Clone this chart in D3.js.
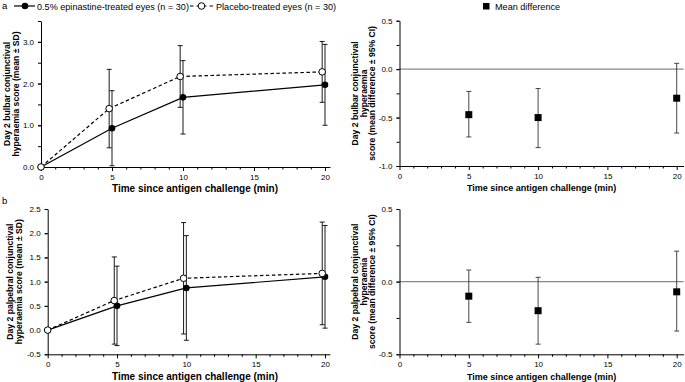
<!DOCTYPE html>
<html>
<head>
<meta charset="utf-8">
<script src="https://cdn.jsdelivr.net/npm/d3@7"></script>
<style>
  body { margin: 0; background: #fff; }
  svg text { font-family: "Liberation Sans", Arial, sans-serif; }
</style>
</head>
<body>
<svg id="chart" width="685" height="382"></svg>
<script>
// data
var times = [0, 5, 10, 20];
var diffTimes = [5, 10, 20];

var bulbarEpiMean = [0, 0.93, 1.67, 1.97];
var bulbarEpiSD   = [0, 0.90, 0.88, 0.97];
var bulbarPlaMean = [0, 1.40, 2.17, 2.28];
var bulbarPlaSD   = [0, 0.94, 0.74, 0.73];
var bulbarDiff    = [-0.47, -0.50, -0.30];
var bulbarDiffLo  = [-0.70, -0.81, -0.66];
var bulbarDiffHi  = [-0.23, -0.20, 0.06];

var palpEpiMean = [0, 0.50, 0.87, 1.10];
var palpEpiSD   = [0, 0.82, 1.08, 1.06];
var palpPlaMean = [0, 0.61, 1.07, 1.17];
var palpPlaSD   = [0, 0.90, 1.15, 1.06];
var palpDiff    = [-0.10, -0.20, -0.07];
var palpDiffLo  = [-0.28, -0.43, -0.34];
var palpDiffHi  = [0.08, 0.03, 0.21];

var xMajor = [0, 5, 10, 15, 20];
var xLabel = "Time since antigen challenge (min)";

var svg = d3.select("#chart");

function xAxisDraw(g, x, y0) {
  var minor = d3.range(0, 21, 1).filter(function(d){ return d % 5 != 0; });
  g.append("g").attr("transform", "translate(0," + y0 + ")")
    .call(d3.axisBottom(x).tickValues(minor).tickSize(2.5).tickFormat(""))
    .call(function(a){ a.select(".domain").remove(); });
  var ax = g.append("g").attr("transform", "translate(0," + y0 + ")")
    .call(d3.axisBottom(x).tickValues(xMajor).tickSizeInner(4).tickSizeOuter(0).tickPadding(3).tickFormat(d3.format("d")));
  ax.selectAll("text").style("font-size", "8px").attr("fill", "#000");
  ax.select(".domain").attr("stroke", "#000");
}

function yAxisDraw(g, y, x0, labels, ticks) {
  g.append("g").attr("transform", "translate(" + x0 + ",0)")
    .call(d3.axisLeft(y).tickValues(ticks).tickSize(3).tickFormat(""))
    .call(function(a){ a.select(".domain").remove(); });
  var ay = g.append("g").attr("transform", "translate(" + x0 + ",0)")
    .call(d3.axisLeft(y).tickValues(labels).tickSizeInner(3).tickSizeOuter(0).tickPadding(4).tickFormat(d3.format(".1f")));
  ay.selectAll("text").style("font-size", "8px").attr("fill", "#000")
    .text(function(d){ return d3.format(".1f")(d).replace("\u2212", "-"); });
  ay.select(".domain").attr("stroke", "#000");
}

function titles(g, xCenter, xY, xSize, yLines, yX, yCenter) {
  g.append("text").attr("x", xCenter).attr("y", xY).attr("text-anchor", "middle")
    .style("font-size", xSize + "px").style("font-weight", "bold").text(xLabel);
  yLines.forEach(function(t, i) {
    g.append("text")
      .attr("transform", "translate(" + (yX + i * 8.6) + "," + yCenter + ") rotate(-90)")
      .attr("text-anchor", "middle").attr("dy", "0.35em")
      .style("font-size", "8.6px").style("font-weight", "bold").text(t);
  });
}

function meanPanel(o) {
  var g = svg.append("g");
  var x = d3.scaleLinear().domain([0, 20.35]).range([o.x0, o.x0 + (o.x20 - o.x0) * 20.35 / 20]);
  var y = d3.scaleLinear().domain(o.yDomain).range([o.yBottom, o.yTop]);
  var dodge = function(t){ return t > 0 ? t - 0.2 : t; };

  var epi = times.map(function(t, i){ return {t: t, m: o.epiMean[i], sd: o.epiSD[i]}; });
  var pla = times.map(function(t, i){ return {t: dodge(t), m: o.plaMean[i], sd: o.plaSD[i]}; });

  xAxisDraw(g, x, o.yBottom);
  yAxisDraw(g, y, o.x0, o.yLabels, o.yTicks);

  var line = d3.line().x(function(d){ return x(d.t); }).y(function(d){ return y(d.m); });
  g.append("path").attr("d", line(pla)).attr("fill", "none").attr("stroke", "#000")
    .attr("stroke-width", 1.2).attr("stroke-dasharray", "3.5,2.5");
  g.append("path").attr("d", line(epi)).attr("fill", "none").attr("stroke", "#000").attr("stroke-width", 1.2);

  function bars(data) {
    var b = g.append("g").selectAll("g").data(data.filter(function(d){ return d.t > 0; })).enter().append("g")
      .attr("stroke", "#000").attr("stroke-width", 0.9);
    b.append("line").attr("x1", function(d){ return x(d.t); }).attr("x2", function(d){ return x(d.t); })
      .attr("y1", function(d){ return y(d.m - d.sd); }).attr("y2", function(d){ return y(d.m + d.sd); });
    [-1, 1].forEach(function(s) {
      b.append("line").attr("x1", function(d){ return x(d.t) - 2.5; }).attr("x2", function(d){ return x(d.t) + 2.5; })
        .attr("y1", function(d){ return y(d.m + s * d.sd); }).attr("y2", function(d){ return y(d.m + s * d.sd); });
    });
  }
  bars(pla);
  bars(epi);

  g.selectAll(".epi").data(epi).enter().append("circle")
    .attr("cx", function(d){ return x(d.t); }).attr("cy", function(d){ return y(d.m); })
    .attr("r", 3.3).attr("fill", "#000");
  g.selectAll(".pla").data(pla).enter().append("circle")
    .attr("cx", function(d){ return x(d.t); }).attr("cy", function(d){ return y(d.m); })
    .attr("r", 3.3).attr("fill", "#fff").attr("stroke", "#000").attr("stroke-width", 1);

  titles(g, o.xTitleX, o.xTitleY, 10, o.yTitle, o.yTitleX, (o.yTop + o.yBottom) / 2);
}

function diffPanel(o) {
  var g = svg.append("g");
  var x0 = 399.5, x20 = 676.7;
  var x = d3.scaleLinear().domain([0, 20.5]).range([x0, x0 + (x20 - x0) * 20.5 / 20]);
  var y = d3.scaleLinear().domain(o.yDomain).range([o.yBottom, o.yTop]);
  var data = diffTimes.map(function(t, i){ return {t: t, m: o.diff[i], lo: o.lo[i], hi: o.hi[i]}; });

  g.append("line").attr("x1", x0).attr("x2", x(20.5)).attr("y1", y(0)).attr("y2", y(0))
    .attr("stroke", "#888").attr("stroke-width", 1.3);

  xAxisDraw(g, x, o.yBottom);
  yAxisDraw(g, y, x0, o.yLabels, o.yTicks);

  var b = g.append("g").selectAll("g").data(data).enter().append("g")
    .attr("stroke", "#333").attr("stroke-width", 0.9);
  b.append("line").attr("x1", function(d){ return x(d.t); }).attr("x2", function(d){ return x(d.t); })
    .attr("y1", function(d){ return y(d.lo); }).attr("y2", function(d){ return y(d.hi); });
  ["lo", "hi"].forEach(function(k) {
    b.append("line").attr("x1", function(d){ return x(d.t) - 2.5; }).attr("x2", function(d){ return x(d.t) + 2.5; })
      .attr("y1", function(d){ return y(d[k]); }).attr("y2", function(d){ return y(d[k]); });
  });
  g.selectAll(".sq").data(data).enter().append("rect")
    .attr("x", function(d){ return x(d.t) - 3.5; }).attr("y", function(d){ return y(d.m) - 3.5; })
    .attr("width", 7).attr("height", 7).attr("fill", "#000");

  titles(g, (x0 + x(20.5)) / 2, o.xTitleY, 9, o.yTitle, 355, (o.yTop + o.yBottom) / 2);
}

meanPanel({
  x0: 41, x20: 325, yTop: 21, yBottom: 167, yDomain: [0, 3.5],
  yLabels: [0, 1, 2, 3], yTicks: d3.range(0, 3.51, 0.5),
  epiMean: bulbarEpiMean, epiSD: bulbarEpiSD, plaMean: bulbarPlaMean, plaSD: bulbarPlaSD,
  xTitleX: 195, xTitleY: 192, yTitleX: 7,
  yTitle: ["Day 2 bulbar conjunctival", "hyperaemia score (mean \u00b1 SD)"]
});
meanPanel({
  x0: 47.7, x20: 325, yTop: 209, yBottom: 354.3, yDomain: [-0.5, 2.5],
  yLabels: d3.range(-0.5, 2.51, 0.5), yTicks: d3.range(-0.5, 2.51, 0.5),
  epiMean: palpEpiMean, epiSD: palpEpiSD, plaMean: palpPlaMean, plaSD: palpPlaSD,
  xTitleX: 195, xTitleY: 380, yTitleX: 10,
  yTitle: ["Day 2 palpebral conjunctival", "hyperaemia score (mean \u00b1 SD)"]
});
diffPanel({
  yTop: 20.7, yBottom: 166, yDomain: [-1.0, 0.5],
  yLabels: [-1, -0.5, 0, 0.5], yTicks: d3.range(-1, 0.51, 0.25),
  diff: bulbarDiff, lo: bulbarDiffLo, hi: bulbarDiffHi, xTitleY: 191,
  yTitle: ["Day 2 bulbar conjunctival", "hyperaemia", "score (mean difference \u00b1 95% CI)"]
});
diffPanel({
  yTop: 209, yBottom: 354.3, yDomain: [-0.5, 0.5],
  yLabels: [-0.5, 0, 0.5], yTicks: d3.range(-0.5, 0.51, 0.25),
  diff: palpDiff, lo: palpDiffLo, hi: palpDiffHi, xTitleY: 380,
  yTitle: ["Day 2 palpebral conjunctival", "hyperaemia", "score (mean difference \u00b1 95% CI)"]
});

// panel letters
svg.append("text").attr("x", 2).attr("y", 9).style("font-size", "9.5px").text("a");
svg.append("text").attr("x", 2).attr("y", 204).style("font-size", "9.5px").text("b");

// legend
var leg = svg.append("g").style("font-size", "9.1px");
leg.append("line").attr("x1", 14).attr("x2", 35).attr("y1", 6).attr("y2", 6).attr("stroke", "#000").attr("stroke-width", 1.2);
leg.append("circle").attr("cx", 25).attr("cy", 6).attr("r", 3.3).attr("fill", "#000");
leg.append("text").attr("x", 37).attr("y", 9.5).text("0.5% epinastine-treated eyes (n = 30)");
leg.append("line").attr("x1", 190).attr("x2", 213).attr("y1", 6).attr("y2", 6).attr("stroke", "#000")
  .attr("stroke-width", 1.2).attr("stroke-dasharray", "3.5,3");
leg.append("circle").attr("cx", 201.5).attr("cy", 6).attr("r", 3.3).attr("fill", "#fff").attr("stroke", "#000");
leg.append("text").attr("x", 216).attr("y", 9.5).text("Placebo-treated eyes (n = 30)");
leg.append("rect").attr("x", 483).attr("y", 3).attr("width", 6.5).attr("height", 6.5).attr("fill", "#000");
leg.append("text").attr("x", 495).attr("y", 9.5).text("Mean difference");
</script>
</body>
</html>
